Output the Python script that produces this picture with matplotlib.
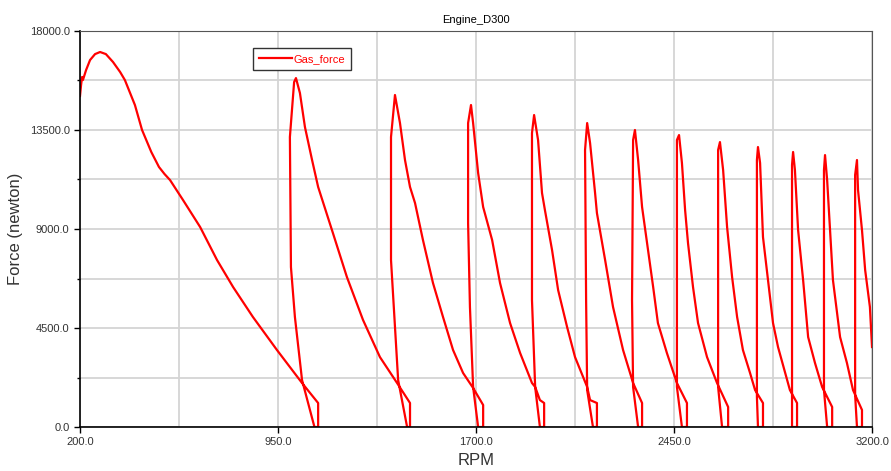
import numpy as np
import matplotlib
matplotlib.use("Agg")
import matplotlib.pyplot as plt
from matplotlib.ticker import FormatStrFormatter

plt.rcParams['font.family'] = ['Liberation Sans', 'DejaVu Sans']

# gas force trace, one list pair per combustion cycle
c0_rpm = [200, 204, 208, 211, 223, 238, 257, 276, 298, 325, 352, 370, 408, 435, 470, 499, 520, 541, 590, 655, 719, 780, 855, 946, 1041, 1102, 1102]
c0_force = [15045, 15545, 15910, 15770, 16225, 16680, 16950, 17045, 16950, 16590, 16135, 15770, 14635, 13500, 12500, 11820, 11500, 11225, 10320, 9090, 7590, 6360, 5000, 3500, 2000, 1090, 0]

c1_rpm = [1088, 1041, 1014, 999, 995, 1011, 1018, 1033, 1052, 1079, 1102, 1158, 1211, 1272, 1336, 1401, 1450, 1450]
c1_force = [0, 2135, 5000, 7270, 13180, 15680, 15860, 15180, 13635, 12135, 10910, 8815, 6815, 4865, 3180, 2000, 1090, 0]

c2_rpm = [1439, 1405, 1393, 1378, 1378, 1393, 1412, 1431, 1450, 1469, 1499, 1537, 1575, 1613, 1651, 1689, 1727, 1727]
c2_force = [0, 2135, 4545, 7590, 13180, 15090, 13815, 12135, 10910, 10180, 8500, 6545, 5000, 3500, 2455, 1775, 1000, 0]

c3_rpm = [1708, 1689, 1677, 1670, 1670, 1681, 1689, 1708, 1727, 1761, 1791, 1829, 1867, 1912, 1924, 1942, 1958, 1958]
c3_force = [0, 1820, 5455, 9270, 13815, 14635, 13815, 11545, 10000, 8500, 6545, 4725, 3365, 2000, 1820, 1225, 1090, 0]

c4_rpm = [1942, 1924, 1912, 1912, 1920, 1935, 1950, 1961, 1988, 2011, 2045, 2075, 2121, 2132, 2158, 2158]
c4_force = [0, 1820, 5770, 13360, 14180, 13045, 10635, 9860, 8045, 6225, 4545, 3180, 1820, 1225, 1090, 0]

c5_rpm = [2143, 2121, 2117, 2113, 2121, 2132, 2151, 2158, 2189, 2219, 2257, 2295, 2329, 2329]
c5_force = [0, 1680, 5770, 12590, 13815, 12910, 10635, 9725, 7590, 5455, 3500, 2000, 1090, 0]

c6_rpm = [2314, 2295, 2291, 2295, 2302, 2314, 2329, 2348, 2371, 2389, 2423, 2461, 2499, 2499]
c6_force = [0, 1820, 5770, 13045, 13500, 12135, 10000, 8360, 6360, 4725, 3365, 2000, 1090, 0]

c7_rpm = [2480, 2461, 2461, 2469, 2480, 2492, 2503, 2522, 2541, 2575, 2613, 2655, 2655]
c7_force = [0, 1820, 13045, 13270, 12000, 9860, 8360, 6360, 4725, 3180, 2000, 910, 0]

c8_rpm = [2632, 2617, 2617, 2624, 2636, 2651, 2670, 2689, 2711, 2738, 2757, 2787, 2787]
c8_force = [0, 1820, 12590, 12950, 11680, 9090, 6815, 5000, 3500, 2455, 1680, 1090, 0]

c9_rpm = [2768, 2764, 2764, 2768, 2776, 2787, 2806, 2825, 2844, 2871, 2889, 2916, 2916]
c9_force = [0, 1365, 12135, 12725, 12000, 8635, 6680, 4725, 3635, 2455, 1680, 1090, 0]

c10_rpm = [2897, 2897, 2897, 2901, 2908, 2920, 2939, 2958, 2984, 3011, 3049, 3049]
c10_force = [0, 1680, 11910, 12500, 11680, 8950, 6680, 4090, 2910, 1820, 910, 0]

c11_rpm = [3030, 3018, 3018, 3022, 3030, 3041, 3052, 3079, 3105, 3128, 3162, 3162]
c11_force = [0, 1680, 11680, 12360, 11225, 8950, 6680, 4090, 2910, 1680, 775, 0]

c12_rpm = [3143, 3136, 3136, 3143, 3147, 3162, 3174, 3192, 3200]
c12_force = [0, 1455, 11455, 12135, 10770, 8950, 7135, 5455, 3635]

x_major = [200, 950, 1700, 2450, 3200]
x_minor = [575, 1325, 2075, 2825]
y_major = [0, 4500, 9000, 13500, 18000]
y_minor = [2250, 6750, 11250, 15750]

rpm = np.concatenate([c0_rpm, c1_rpm, c2_rpm, c3_rpm, c4_rpm, c5_rpm, c6_rpm,
                      c7_rpm, c8_rpm, c9_rpm, c10_rpm, c11_rpm, c12_rpm])
force = np.concatenate([c0_force, c1_force, c2_force, c3_force, c4_force, c5_force, c6_force,
                        c7_force, c8_force, c9_force, c10_force, c11_force, c12_force])

fig = plt.figure(figsize=(8.91, 4.71), dpi=100)
ax = fig.add_axes([0.0898, 0.0934, 0.8889, 0.8408])

ax.plot(rpm, force, color='#ff0000', lw=1.6, label='Gas_force')

ax.set_xlim(200, 3200)
ax.set_ylim(0, 18000)
ax.set_xticks(x_major)
ax.set_xticks(x_minor, minor=True)
ax.set_yticks(y_major)
ax.set_yticks(y_minor, minor=True)
ax.xaxis.set_major_formatter(FormatStrFormatter('%.1f'))
ax.yaxis.set_major_formatter(FormatStrFormatter('%.1f'))

ax.grid(which='both', color='#d4d4d4', lw=1.3)
ax.set_axisbelow(True)
ax.tick_params(which='major', length=4, width=1, labelsize=8, labelcolor='#333333')
ax.tick_params(which='minor', length=2, width=1)
ax.tick_params(axis='x', which='minor', length=0)

for s in ['top', 'right']:
    ax.spines[s].set_color('#555555')
for s in ['left', 'bottom']:
    ax.spines[s].set_color('black')
    ax.spines[s].set_linewidth(1.2)

ax.set_title('Engine_D300', fontsize=8, pad=6)
ax.set_xlabel('RPM', fontsize=12, labelpad=4, color='#333333')
ax.set_ylabel('Force (newton)', fontsize=12, labelpad=5, color='#333333')

leg = ax.legend(loc='upper left', bbox_to_anchor=(0.212, 0.97), fontsize=8,
                fancybox=False, edgecolor='#333333', framealpha=1,
                handlelength=3, handletextpad=0.1, borderpad=0.5)
for t in leg.get_texts():
    t.set_color('#ff0000')

fig.savefig('out.png', dpi=100)
